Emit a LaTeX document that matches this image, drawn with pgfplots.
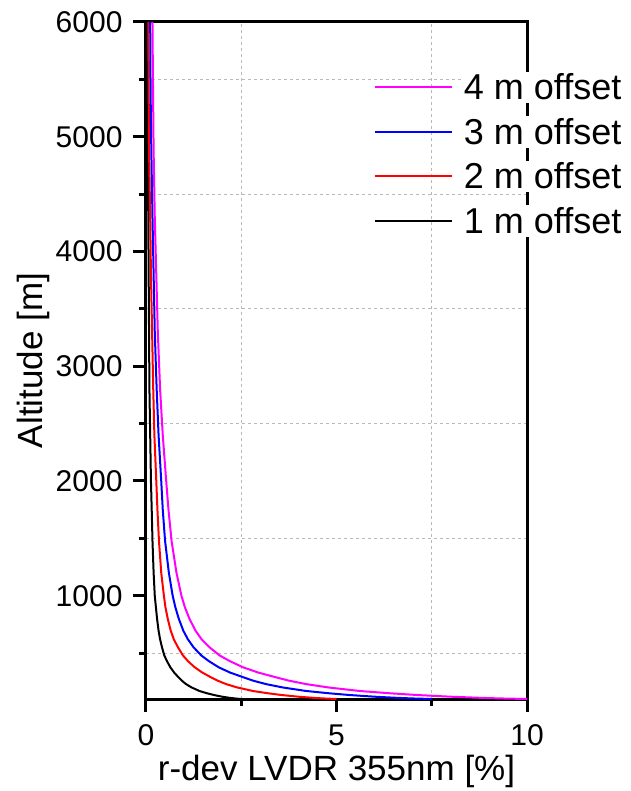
\documentclass[border=0pt]{standalone}
\usepackage{pgfplots}
\pgfplotsset{compat=1.18}
\usepackage{pgfplotstable}
\usepackage{fontspec}
\setmainfont{Liberation Sans}
\definecolor{mag}{RGB}{255,0,255}
\definecolor{blu}{RGB}{0,0,255}
\definecolor{rd}{RGB}{255,0,0}

% altitude [m], r-dev [%] for 4, 3, 2 and 1 m offset
\pgfplotstableread{
h     m4     m3     m2     m1
100   10.0   7.50   5.00   2.50
105   9.30   6.98   4.65   2.33
110   8.80   6.60   4.40   2.20
120   8.00   6.00   4.00   2.00
135   7.10   5.33   3.55   1.78
150   6.40   4.80   3.20   1.60
170   5.60   4.20   2.80   1.40
187   5.15   3.86   2.58   1.29
200   4.80   3.60   2.40   1.20
230   4.20   3.15   2.10   1.05
260   3.75   2.81   1.88   0.94
290   3.40   2.55   1.70   0.85
330   2.95   2.21   1.48   0.74
376   2.55   1.91   1.28   0.64
430   2.20   1.65   1.10   0.55
480   1.93   1.45   0.97   0.48
550   1.67   1.25   0.84   0.42
620   1.46   1.10   0.73   0.37
695   1.30   0.98   0.65   0.33
800   1.14   0.86   0.57   0.29
900   1.02   0.77   0.51   0.26
1000  0.93   0.70   0.47   0.23
1200  0.80   0.60   0.40   0.20
1480  0.67   0.50   0.34   0.17
1750  0.59   0.44   0.30   0.15
2000  0.53   0.40   0.27   0.13
2400  0.44   0.33   0.22   0.11
2800  0.37   0.28   0.19   0.09
3300  0.31   0.23   0.16   0.08
3800  0.27   0.20   0.13   0.07
4300  0.23   0.17   0.11   0.06
4880  0.20   0.14   0.08   0.05
5400  0.185  0.12   0.07   0.045
6000  0.17   0.11   0.06   0.04
}\rdev

\begin{document}
\begin{tikzpicture}
\useasboundingbox (-146pt,-92pt) rectangle (484pt,699pt);
\begin{axis}[
    at={(0pt,0pt)}, anchor=south west,
    width=381pt, height=677pt, scale only axis,
    axis lines=box,
    xmin=0, xmax=10, ymin=100, ymax=6000,
    xtick={0,5,10}, minor xtick={2.5,7.5},
    ytick={1000,2000,...,6000}, minor ytick={500,1500,...,5500},
    xminorgrids, yminorgrids,
    minor grid style={gray!55, line width=0.8pt, dash pattern=on 3pt off 3pt},
    tick pos=left, tick align=outside,
    major tick length=13pt, minor tick length=7pt,
    tick style={black, line width=3pt},
    axis line style={black, line width=3pt},
    /pgf/number format/assume math mode=true,
    /pgf/number format/1000 sep={},
    ticklabel style={font=\fontsize{30}{34}\selectfont},
    xticklabel style={yshift=-9pt},
    yticklabel style={xshift=-7pt},
    label style={font=\fontsize{35}{40}\selectfont},
    xlabel style={yshift=-2pt},
    ylabel style={yshift=-1pt},
    xlabel={r-dev LVDR 355nm [\%]},
    ylabel={Altitude [m]},
    reverse legend,
    legend cell align=left,
    legend style={at={(0.59,0.93)}, anchor=north west, draw=none, fill=none,
        font=\fontsize{36}{40}\selectfont, row sep=13pt, column sep=9pt},
    legend image code/.code={\draw[#1, line width=2pt] (0pt,0pt) -- (77pt,0pt);},
]
\addplot[black, line width=2pt, line join=round] table[x=m1, y=h] {\rdev};
\addlegendentry[fill=white]{1 m offset}
\addplot[rd, line width=2pt, line join=round] table[x=m2, y=h] {\rdev};
\addlegendentry[fill=white]{2 m offset}
\addplot[blu, line width=2pt, line join=round] table[x=m3, y=h] {\rdev};
\addlegendentry[fill=white]{3 m offset}
\addplot[mag, line width=2pt, line join=round] table[x=m4, y=h] {\rdev};
\addlegendentry[fill=white]{4 m offset}
\end{axis}
\end{tikzpicture}
\end{document}
